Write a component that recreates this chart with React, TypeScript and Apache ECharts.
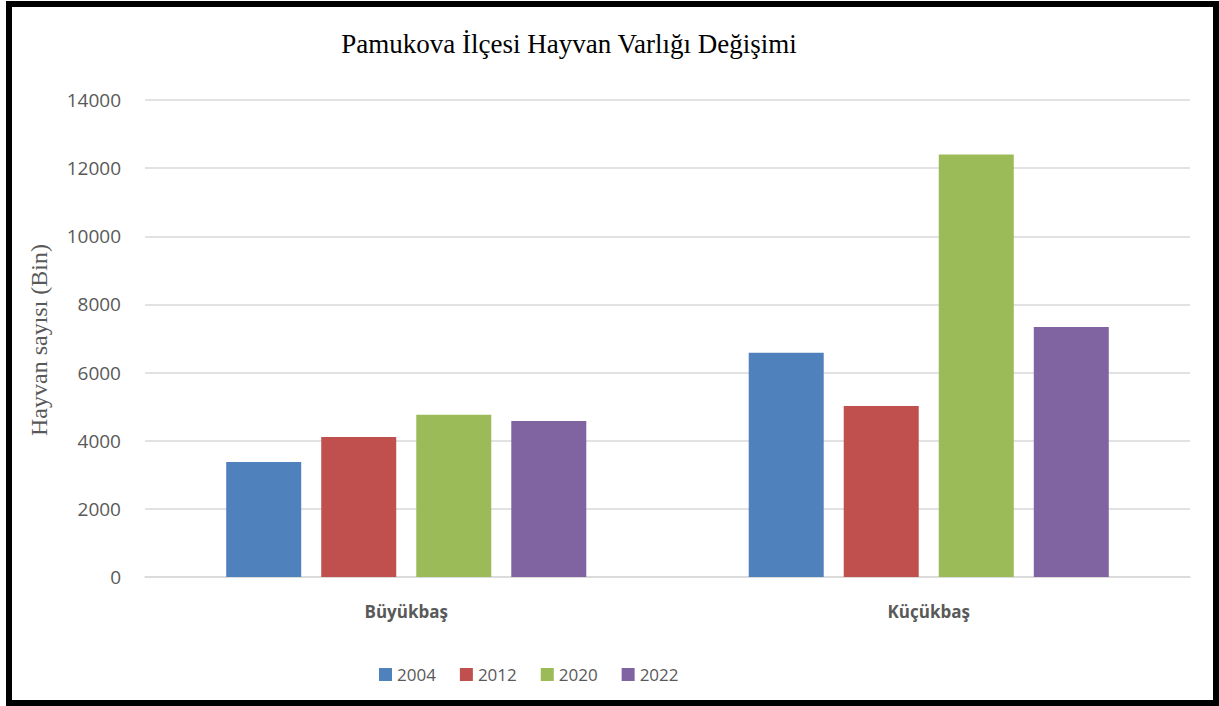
import React, { useEffect, useRef } from "react";
import * as echarts from "echarts";

const categories = ["Büyükbaş", "Küçükbaş"];
const years = ["2004", "2012", "2020", "2022"];
const values2004 = [3375, 6580];
const values2012 = [4110, 5020];
const values2020 = [4765, 12400];
const values2022 = [4580, 7335];
const yTicks = { min: 0, max: 14000, interval: 2000 };
const colors = ["#4F81BD", "#C0504D", "#9BBB59", "#8064A2"];

export default function App() {
  const ref = useRef<HTMLDivElement>(null);
  useEffect(() => {
    document.body.style.margin = "0";
    const chart = echarts.init(ref.current!, undefined, { renderer: "svg" });
    const seriesData = [values2004, values2012, values2020, values2022];
    chart.setOption({
      animation: false,
      backgroundColor: "#ffffff",
      title: {
        text: "Pamukova İlçesi Hayvan Varlığı Değişimi",
        left: 564,
        top: 25,
        textAlign: "center",
        textStyle: {
          fontFamily: "Liberation Serif",
          fontWeight: "normal",
          fontSize: 27,
          color: "#000000",
        },
      },
      legend: {
        data: years,
        left: 374,
        top: 661,
        itemWidth: 13,
        itemHeight: 13,
        itemGap: 24,
        itemStyle: { borderWidth: 0 },
        icon: "rect",
        textStyle: { fontFamily: "Open Sans", fontSize: 17, color: "#595959" },
      },
      grid: { left: 145, right: 29, top: 100, bottom: 129 },
      xAxis: {
        type: "category",
        data: categories,
        axisLine: { show: true, lineStyle: { color: "#D9D9D9", width: 1.5 } },
        axisTick: { show: false },
        axisLabel: {
          margin: 26,
          fontFamily: "Open Sans",
          fontWeight: "bold",
          fontSize: 17,
          color: "#595959",
        },
      },
      yAxis: {
        type: "value",
        min: yTicks.min,
        max: yTicks.max,
        interval: yTicks.interval,
        axisLine: { show: false },
        axisTick: { show: false },
        splitLine: { lineStyle: { color: "#D9D9D9", width: 1.5 } },
        axisLabel: {
          margin: 24,
          fontFamily: "Open Sans",
          fontSize: 19,
          color: "#595959",
          formatter: (v: number) => String(v),
        },
      },
      graphic: [
        {
          type: "rect",
          shape: { x: 9, y: 4, width: 1207, height: 699 },
          style: { fill: "none", stroke: "#000000", lineWidth: 6 },
          z: 100,
        },
        {
          type: "text",
          x: 39,
          y: 340,
          rotation: Math.PI / 2,
          style: {
            text: "Hayvan sayısı (Bin)",
            fontFamily: "Liberation Serif",
            fontSize: 24,
            fill: "#595959",
            textAlign: "center",
            textVerticalAlign: "middle",
          },
        },
      ],
      series: years.map((y, i) => ({
        name: y,
        type: "bar",
        data: seriesData[i],
        barWidth: 75,
        barGap: "26.7%",
        itemStyle: { color: colors[i] },
      })),
    });
    return () => chart.dispose();
  }, []);
  return (
    <div
      ref={ref}
      style={{ position: "absolute", left: 0, top: 0, width: 1219, height: 706 }}
    />
  );
}
